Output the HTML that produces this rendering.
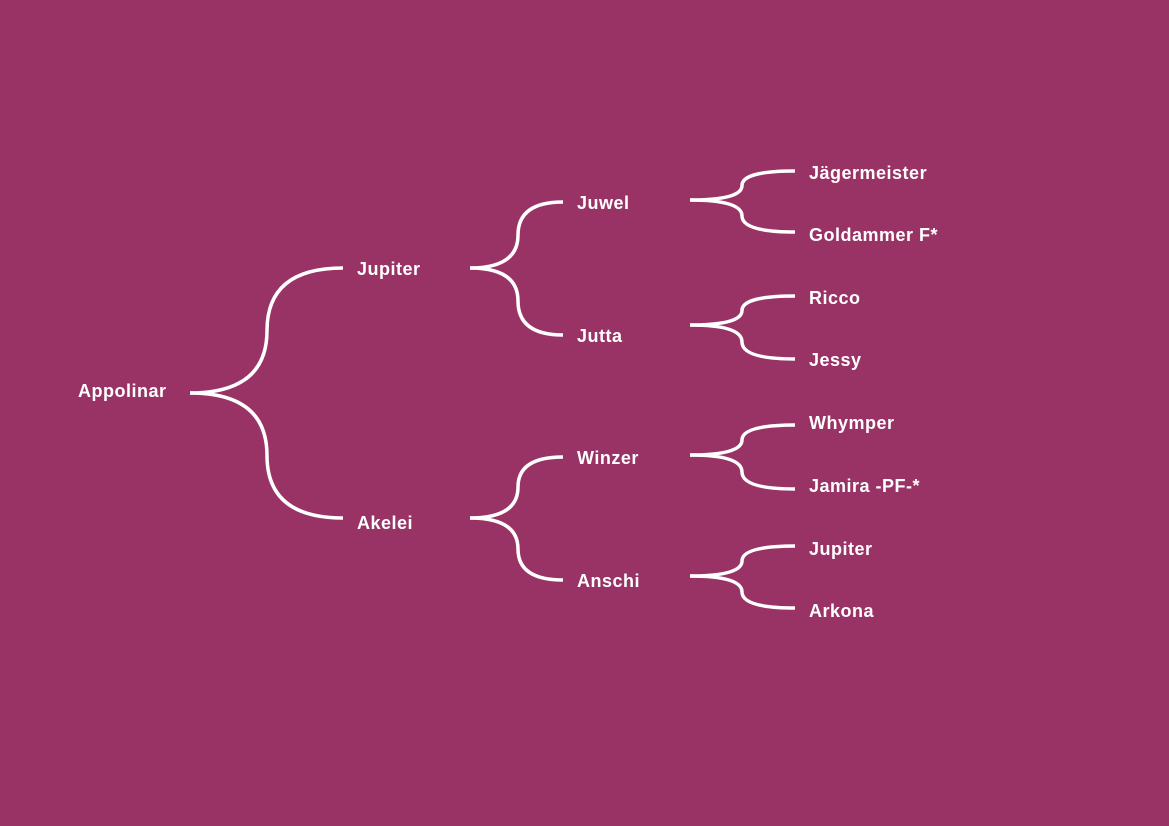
<!DOCTYPE html>
<html><head><meta charset="utf-8"><style>
html,body{margin:0;padding:0;}
body{width:1169px;height:826px;background:#993366;position:relative;overflow:hidden;font-family:"Liberation Sans",sans-serif;}
.t{position:absolute;color:#fff;font-weight:bold;font-size:18px;letter-spacing:0.5px;line-height:20px;white-space:nowrap;transform:translateY(-50%);}
svg{position:absolute;left:0;top:0;}
</style></head><body>
<svg width="1169" height="826" fill="none" stroke="#fff" stroke-width="3.5">
<path d="M190,393 Q267,393 267,330.5 Q267,268 343,268"/>
<path d="M190,393 Q267,393 267,455.5 Q267,518 343,518"/>
<path d="M470,268 Q518,268 518,235 Q518,202 563,202"/>
<path d="M470,268 Q518,268 518,301 Q518,335 563,335"/>
<path d="M470,518 Q518,518 518,487 Q518,457 563,457"/>
<path d="M470,518 Q518,518 518,549 Q518,580 563,580"/>
<path d="M690,200 Q742,200 742,185.5 Q742,171 795,171"/>
<path d="M690,200 Q742,200 742,216 Q742,232 795,232"/>
<path d="M690,325 Q742,325 742,310.5 Q742,296 795,296"/>
<path d="M690,325 Q742,325 742,342 Q742,359 795,359"/>
<path d="M690,455 Q742,455 742,440 Q742,425 795,425"/>
<path d="M690,455 Q742,455 742,472 Q742,489 795,489"/>
<path d="M690,576 Q742,576 742,561 Q742,546 795,546"/>
<path d="M690,576 Q742,576 742,592 Q742,608 795,608"/>
</svg>
<div class="t" style="left:78px;top:391px">Appolinar</div>
<div class="t" style="left:357px;top:269px">Jupiter</div>
<div class="t" style="left:357px;top:523px">Akelei</div>
<div class="t" style="left:577px;top:203px">Juwel</div>
<div class="t" style="left:577px;top:336px">Jutta</div>
<div class="t" style="left:577px;top:458px">Winzer</div>
<div class="t" style="left:577px;top:581px">Anschi</div>
<div class="t" style="left:809px;top:173px">Jägermeister</div>
<div class="t" style="left:809px;top:235px">Goldammer F*</div>
<div class="t" style="left:809px;top:298px">Ricco</div>
<div class="t" style="left:809px;top:360px">Jessy</div>
<div class="t" style="left:809px;top:423px">Whymper</div>
<div class="t" style="left:809px;top:486px">Jamira -PF-*</div>
<div class="t" style="left:809px;top:549px">Jupiter</div>
<div class="t" style="left:809px;top:611px">Arkona</div>
</body></html>
